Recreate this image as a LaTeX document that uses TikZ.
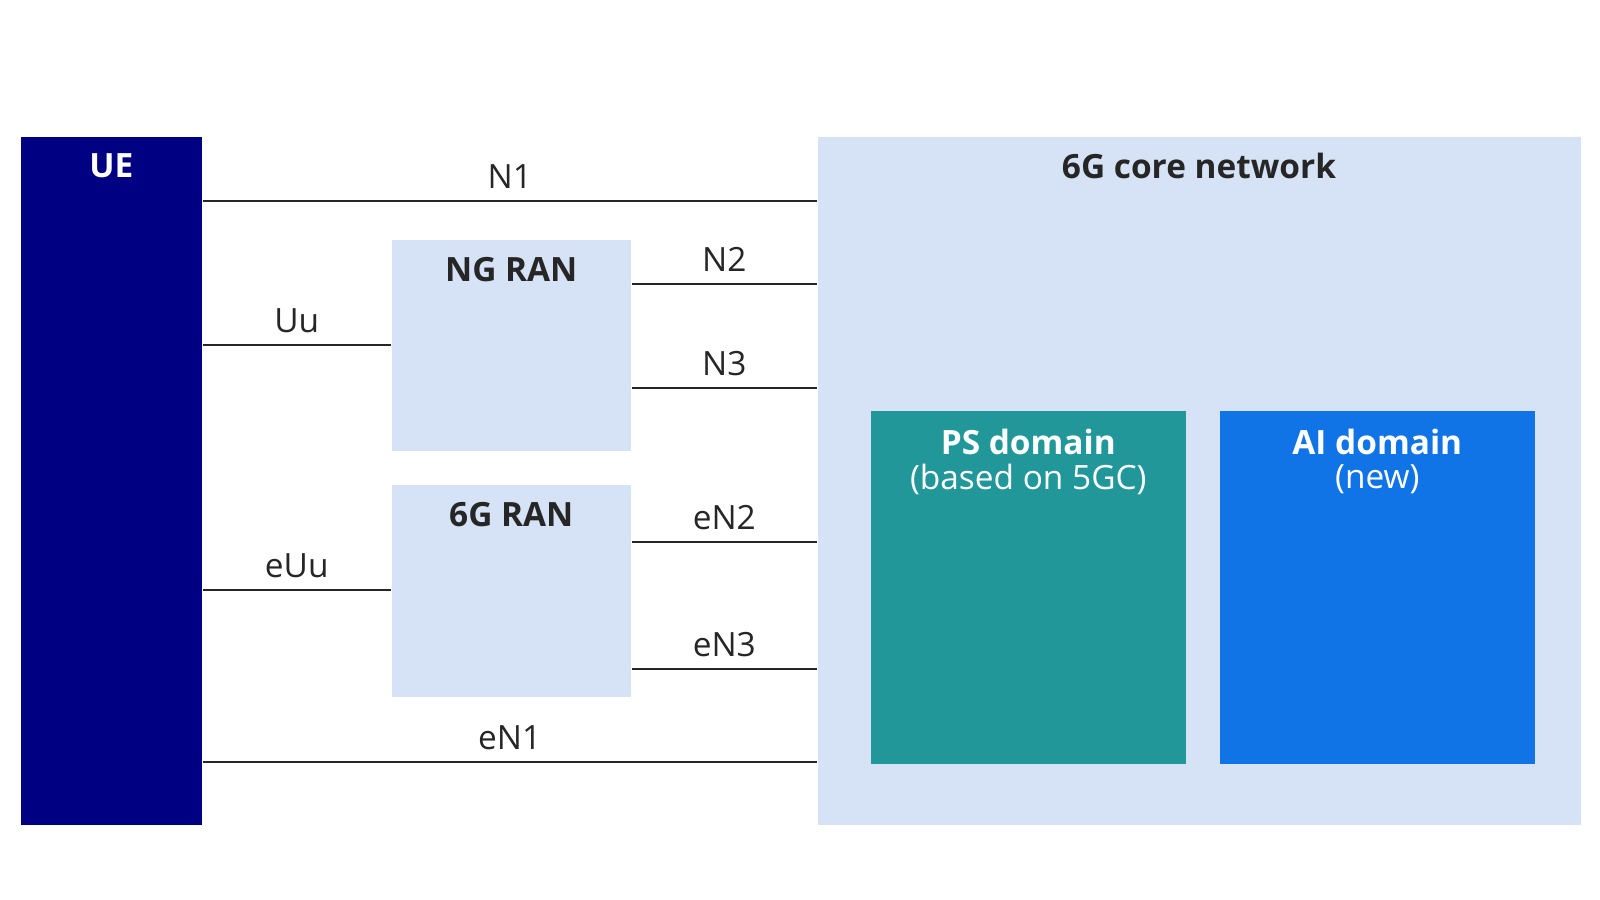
\documentclass[tikz,border=0pt]{standalone}
\usepackage{fontspec}
\setmainfont{Open Sans}
\usetikzlibrary{calc}
\usetikzlibrary{positioning}
\definecolor{uenavy}{HTML}{000082}
\definecolor{paleblue}{HTML}{D6E2F5}
\definecolor{psteal}{HTML}{22979A}
\definecolor{aiblue}{HTML}{1174E6}
\begin{document}
\begin{tikzpicture}[x=0.01cm, y=-0.01cm,
    block/.style={fill=#1, inner sep=0pt, anchor=north west},
    title/.style={font=\fontsize{9.5}{11}\selectfont\bfseries, text=black!85},
    sub/.style={font=\fontsize{9.5}{11}\selectfont, text=white},
    lbl/.style={font=\fontsize{9.5}{11}\selectfont, text=black!85, above},
    link/.style={black!85, line width=0.5pt}]

    \useasboundingbox (0,0) rectangle (1600,900);

    % boxes
    \node[block=uenavy, minimum width=1.81cm, minimum height=6.88cm] (ue) at (20,136) {};
    \node[block=paleblue, minimum width=7.63cm, minimum height=6.88cm] (core) at (817,136) {};
    \node[block=paleblue, minimum width=2.39cm, minimum height=2.11cm] (ngran) at (391,239) {};
    \node[block=paleblue, minimum width=2.39cm, minimum height=2.12cm] (sixran) at (391,484) {};
    \node[block=psteal, minimum width=3.15cm, minimum height=3.53cm] (ps) at (870,410) {};
    \node[block=aiblue, minimum width=3.15cm, minimum height=3.53cm] (ai) at (1219,410) {};

    % titles
    \node[title, text=white] at (ue.north |- 0,166) {UE};
    \node[title] at (1199,166) {6G core network};
    \node[title] at (ngran.north |- 0,270) {NG RAN};
    \node[title] at (sixran.north |- 0,515) {6G RAN};
    \node[title, text=white] at (ps.north |- 0,442) {PS domain};
    \node[sub] at (ps.north |- 0,479) {(based on 5GC)};
    \node[title, text=white] at (ai.north |- 0,442) {AI domain};
    \node[sub] at (ai.north |- 0,479) {(new)};

    % interfaces
    \draw[link] (ue.east |- 0,201) -- node[lbl] {N1} (core.west |- 0,201);
    \draw[link] (ue.east |- 0,345) -- node[lbl] {Uu} (ngran.west |- 0,345);
    \draw[link] (ngran.east |- 0,284) -- node[lbl] {N2} (core.west |- 0,284);
    \draw[link] (ngran.east |- 0,388) -- node[lbl] {N3} (core.west |- 0,388);
    \draw[link] (ue.east |- 0,590) -- node[lbl] {eUu} (sixran.west |- 0,590);
    \draw[link] (sixran.east |- 0,542) -- node[lbl] {eN2} (core.west |- 0,542);
    \draw[link] (sixran.east |- 0,669) -- node[lbl] {eN3} (core.west |- 0,669);
    \draw[link] (ue.east |- 0,762) -- node[lbl] {eN1} (core.west |- 0,762);
\end{tikzpicture}
\end{document}
